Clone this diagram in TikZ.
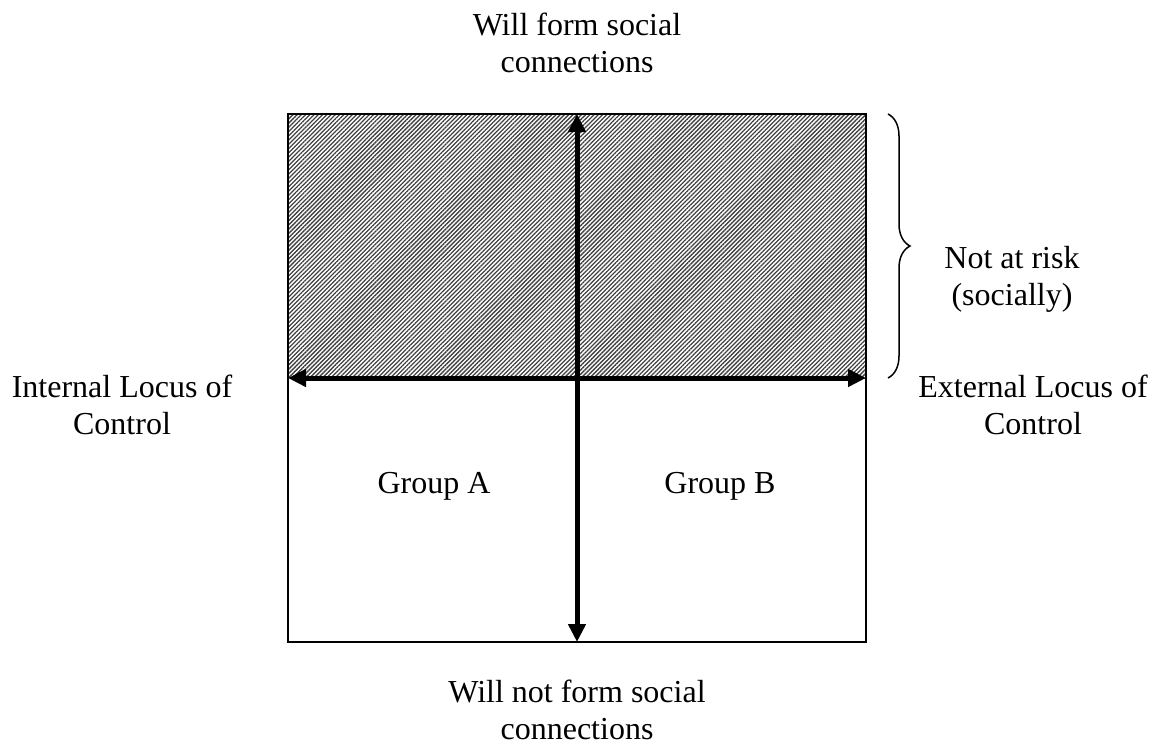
\documentclass[tikz,border=0pt]{standalone}
\usepackage{fontspec}
\setmainfont{Liberation Serif}
\usetikzlibrary{arrows.meta, patterns.meta, decorations.pathreplacing}

\begin{document}
\begin{tikzpicture}[x=1pt, y=-1pt,
    txt/.style={font=\fontsize{32}{37}\selectfont, align=center, inner sep=0pt},
    axis/.style={line width=5pt, {Triangle[length=18pt,width=17pt]}-{Triangle[length=18pt,width=17pt]}},
    box/.style={draw, line width=1.5pt}]
    \useasboundingbox (0,0) rectangle (1156,747);

    % box corners and axis ends
    \coordinate (nw) at (288,114);
    \coordinate (se) at (866,642);
    \coordinate (w) at (288,378);
    \coordinate (e) at (866,378);
    \coordinate (n) at (577,114);
    \coordinate (s) at (577,642);
    \coordinate (bt) at (888,114);
    \coordinate (bb) at (888,378);

    \fill[pattern={Lines[angle=45,distance=3pt,line width=1.3pt]}, pattern color=black!75] (nw) rectangle (e);
    \draw[box] (nw) rectangle (se);
    \draw[axis] (w) -- (e);
    \draw[axis] (n) -- (s);
    \draw[decorate, decoration={brace, amplitude=22pt}, line width=1.5pt] (bt) -- (bb);

    \node[txt] (top) at (577,43) {Will form social\\connections};
    \node[txt] (bottom) at (577,710) {Will not form social\\connections};
    \node[txt] (internal) at (122,405) {Internal Locus of\\Control};
    \node[txt] (external) at (1033,405) {External Locus of\\Control};
    \node[txt] (risk) at (1012,279) {Not at risk\\(socially)};
    \node[txt, anchor=base] (groupA) at (434,493) {Group A};
    \node[txt, anchor=base] (groupB) at (720,493) {Group B};
\end{tikzpicture}
\end{document}
